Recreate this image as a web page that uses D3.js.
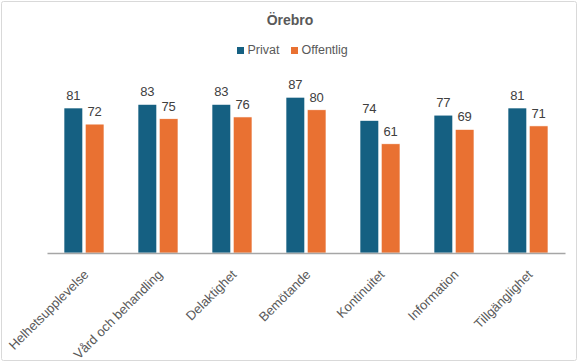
<!DOCTYPE html>
<meta charset="utf-8">
<head>
  <title>Örebro</title>
</head>
<style>
  body { margin: 0; background: #fff; }
  .lbl { font: 13px "Liberation Sans", Arial, sans-serif; fill: #404040; }
  .xaxis text { font: 13px "Liberation Sans", Arial, sans-serif; fill: #595959; }
  .xaxis path { stroke: #a6a6a6; stroke-width: 1.5px; }
  .xaxis line { display: none; }
</style>
<body>
<script src="https://d3js.org/d3.v7.min.js"></script>
<script>
var categories = ["Helhetsupplevelse", "Vård och behandling", "Delaktighet", "Bemötande",
                  "Kontinuitet", "Information", "Tillgänglighet"];
var seriesNames = ["Privat", "Offentlig"];
var privat = [81, 83, 83, 87, 74, 77, 81];
var offentlig = [72, 75, 76, 80, 61, 69, 71];
var colors = ["#156082", "#e97132"];

var W = 580, H = 363;
var margin = {top: 74, right: 15, bottom: 110, left: 47},
    width = 565 - margin.left,
    height = 253 - margin.top;

var svg = d3.select("body").append("svg")
    .attr("width", W)
    .attr("height", H);

// chart border
svg.append("rect")
    .attr("x", 1.5).attr("y", 1.5)
    .attr("width", 575).attr("height", 359)
    .attr("rx", 2)
    .style("fill", "#fff")
    .style("stroke", "#d9d9d9");

svg.append("text")
    .attr("x", 290).attr("y", 25)
    .attr("text-anchor", "middle")
    .style("font", "bold 14px 'Liberation Sans', Arial, sans-serif")
    .style("fill", "#595959")
    .text("Örebro");

// legend
var legendX = [237, 291];
seriesNames.forEach(function(s, i) {
  svg.append("rect")
      .attr("x", legendX[i]).attr("y", 47)
      .attr("width", 7).attr("height", 7)
      .style("fill", colors[i]);
  svg.append("text")
      .attr("x", legendX[i] + 10.5).attr("y", 54)
      .style("font", "12.5px 'Liberation Sans', Arial, sans-serif")
      .style("fill", "#595959")
      .text(s);
});

var g = svg.append("g")
    .attr("transform", "translate(" + margin.left + "," + margin.top + ")");

var x0 = d3.scaleBand().domain(categories).range([0, width]).paddingInner(0.46).paddingOuter(0.23);
var x1 = d3.scaleBand().domain(seriesNames).range([0, x0.bandwidth()]).paddingInner(0.12);
var y = d3.scaleLinear().domain([0, 100]).range([height, 0]);

var data = categories.map(function(c, i) {
  return {cat: c, vals: [privat[i], offentlig[i]]};
});

var groups = g.selectAll(".grp")
    .data(data)
  .enter().append("g")
    .attr("class", "grp")
    .attr("transform", function(d) { return "translate(" + x0(d.cat) + ",0)"; });

groups.selectAll("rect")
    .data(function(d) { return d.vals.map(function(v, i) { return {s: seriesNames[i], v: v, i: i}; }); })
  .enter().append("rect")
    .attr("x", function(d) { return x1(d.s); })
    .attr("y", function(d) { return y(d.v); })
    .attr("width", x1.bandwidth())
    .attr("height", function(d) { return height - y(d.v); })
    .style("fill", function(d) { return colors[d.i]; })
    .style("stroke", "#fff")
    .style("stroke-width", 0.6);

groups.selectAll(".lbl")
    .data(function(d) { return d.vals.map(function(v, i) { return {s: seriesNames[i], v: v}; }); })
  .enter().append("text")
    .attr("class", "lbl")
    .attr("x", function(d) { return x1(d.s) + x1.bandwidth() / 2; })
    .attr("y", function(d) { return y(d.v) - 8; })
    .attr("text-anchor", "middle")
    .text(function(d) { return d.v; });

// x axis
var xa = g.append("g")
    .attr("class", "xaxis")
    .attr("transform", "translate(0," + height + ")")
    .call(d3.axisBottom(x0).tickSize(0).tickSizeOuter(0));

xa.selectAll("text")
    .attr("text-anchor", "end")
    .attr("dy", "0.35em")
    .attr("transform", "translate(0,17) rotate(-45)");
</script>
</body>
